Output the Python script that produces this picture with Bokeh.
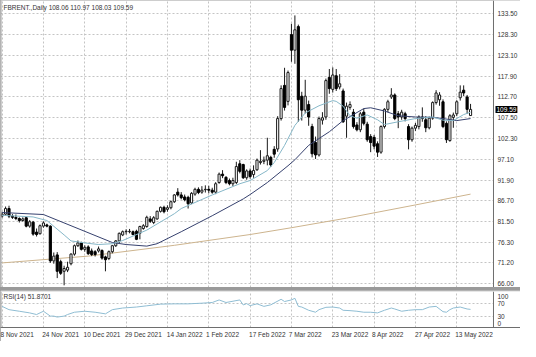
from bokeh.plotting import figure
from bokeh.layouts import column
from bokeh.models import Range1d, FixedTicker, Label, ColumnDataSource, Span
from bokeh.core.properties import value
from bokeh.embed import file_html
from bokeh.resources import INLINE

symbol = "FBRENT.,Daily"
date_labels = ["8 Nov 2021", "24 Nov 2021", "10 Dec 2021", "29 Dec 2021", "14 Jan 2022", "1 Feb 2022",
               "17 Feb 2022", "7 Mar 2022", "23 Mar 2022", "8 Apr 2022", "27 Apr 2022", "13 May 2022"]
date_idx = [0, 12, 24, 36, 48, 60, 72, 84, 96, 108, 120, 132]

opens = [82.9, 83.4, 84.8, 82.9, 82.6, 82.3, 81.8, 82.5, 80.4, 81.4, 78.9, 78.5, 80.4, 80.7, 80.4, 71.7, 73.2, 71.5, 69.1, 69.4,
         71.0, 73.4, 75.5, 76.2, 74.6, 75.2, 74.2, 74.0, 74.2, 74.3, 72.7, 72.3, 74.0, 75.5, 76.7, 78.2, 79.0, 79.0, 79.0, 79.1,
         78.6, 79.8, 80.3, 82.2, 81.3, 82.2, 84.1, 85.1, 84.6, 85.0, 86.5, 88.9, 88.2, 87.7, 87.6, 86.2, 88.4, 89.6, 88.9, 89.5,
         89.6, 89.4, 88.9, 91.3, 93.4, 92.6, 91.8, 91.0, 91.3, 96.0, 95.8, 92.5, 94.2, 93.3, 94.5, 96.3, 96.6, 96.9, 97.6, 99.6,
         99.7, 107.3, 115.6, 111.6, 128.3, 124.4, 130.3, 112.9, 109.4, 110.8, 105.3, 101.3, 98.2, 106.9, 107.7, 117.6, 114.6, 118.0, 115.2, 114.2,
         107.9, 110.1, 108.9, 105.7, 104.5, 108.9, 105.9, 102.8, 102.6, 101.0, 98.9, 105.3, 109.6, 112.7, 113.2, 108.5, 107.7, 108.5, 105.3, 102.0,
         104.9, 105.3, 107.7, 107.0, 105.0, 107.4, 111.3, 112.0, 111.5, 106.1, 101.8, 107.6, 108.5, 112.5, 114.4, 112.7, 108.06]
highs = [84.0, 85.3, 85.5, 83.4, 83.3, 82.6, 82.6, 82.7, 81.9, 81.7, 79.8, 80.8, 81.6, 81.0, 80.6, 73.8, 73.9, 72.0, 70.5, 71.5,
         73.6, 75.8, 76.8, 76.5, 75.6, 75.6, 74.8, 74.4, 75.3, 74.6, 73.0, 74.3, 75.7, 76.9, 78.8, 79.3, 79.6, 79.7, 79.3, 79.5,
         80.5, 80.9, 83.0, 82.9, 82.9, 84.3, 85.3, 85.5, 85.6, 86.8, 88.4, 89.9, 88.9, 88.3, 88.0, 88.9, 90.0, 90.1, 90.4, 90.6,
         90.5, 90.0, 91.4, 93.8, 94.4, 92.9, 92.3, 92.5, 96.5, 96.9, 96.0, 94.6, 94.8, 95.6, 97.3, 99.4, 97.8, 102.5, 98.0, 100.4,
         107.9, 115.6, 120.0, 119.3, 131.0, 133.1, 130.8, 114.0, 117.0, 111.8, 106.0, 102.8, 107.8, 108.9, 117.3, 119.7, 120.1, 119.7, 118.4, 114.8,
         111.3, 111.6, 109.7, 106.4, 109.0, 109.8, 106.5, 103.4, 103.2, 101.6, 105.6, 109.9, 112.0, 114.9, 113.6, 109.2, 109.5, 109.0, 105.9, 105.3,
         106.2, 108.1, 110.1, 107.9, 107.8, 111.6, 114.4, 113.9, 112.1, 106.6, 108.4, 108.8, 111.9, 115.6, 115.6, 113.2, 110.97]
lows = [82.5, 83.0, 82.4, 82.2, 81.9, 81.3, 81.5, 80.1, 80.0, 78.0, 77.8, 78.3, 80.0, 80.1, 71.2, 71.0, 67.4, 68.2, 65.6, 68.9,
        70.6, 73.0, 75.2, 74.3, 74.0, 73.2, 72.9, 72.8, 73.8, 72.0, 69.1, 71.9, 73.6, 75.2, 76.1, 77.9, 78.3, 78.6, 78.1, 76.9,
        77.1, 79.5, 80.0, 81.2, 80.9, 82.0, 83.8, 83.6, 84.0, 84.6, 86.2, 87.8, 87.1, 86.6, 84.8, 85.9, 88.0, 88.4, 88.5, 88.8,
        88.6, 88.5, 88.4, 91.0, 92.4, 90.9, 90.6, 90.4, 90.9, 93.6, 92.2, 92.0, 92.3, 92.5, 94.2, 95.8, 95.9, 95.6, 95.2, 97.5,
        99.0, 106.8, 109.3, 110.6, 121.5, 121.0, 106.5, 106.8, 108.6, 105.5, 97.6, 97.2, 97.8, 105.8, 107.0, 113.5, 113.8, 114.2, 114.6, 106.2,
        102.5, 109.5, 104.8, 104.1, 103.9, 105.6, 101.5, 98.9, 99.6, 97.7, 98.5, 104.8, 108.9, 112.2, 106.9, 104.9, 107.0, 106.6, 99.6, 101.5,
        104.2, 104.6, 106.5, 103.9, 104.6, 107.0, 110.8, 110.5, 104.9, 101.2, 101.5, 105.0, 107.9, 111.8, 112.9, 108.5, 108.03]
closes = [83.4, 84.8, 82.9, 82.6, 82.3, 81.8, 82.2, 80.4, 81.5, 78.4, 78.3, 80.5, 81.2, 80.4, 71.7, 72.9, 69.1, 68.6, 69.8, 70.1,
          73.4, 75.5, 76.2, 74.6, 75.1, 73.5, 73.3, 73.3, 74.7, 72.4, 72.0, 74.0, 75.5, 76.7, 78.6, 79.0, 79.1, 79.1, 78.3, 77.1,
          80.3, 80.5, 82.6, 81.6, 82.5, 84.1, 85.1, 84.0, 85.0, 86.5, 88.2, 88.2, 87.5, 87.0, 86.0, 88.6, 89.6, 88.8, 89.4, 89.6,
          89.4, 88.9, 91.0, 93.4, 93.0, 91.3, 91.0, 91.8, 95.3, 94.1, 92.5, 94.2, 92.8, 94.3, 96.9, 96.6, 96.9, 98.0, 95.7, 98.4,
          107.3, 114.8, 110.1, 118.8, 124.4, 129.5, 112.0, 109.4, 112.9, 107.7, 98.5, 98.2, 107.3, 107.5, 116.8, 114.8, 118.2, 114.8, 116.0, 106.5,
          110.4, 110.8, 105.3, 104.5, 108.5, 106.1, 102.0, 101.3, 100.4, 98.9, 105.3, 109.6, 111.5, 113.2, 107.3, 107.7, 108.9, 107.3, 102.0, 104.9,
          105.6, 107.7, 107.3, 105.0, 107.4, 111.3, 113.7, 113.2, 105.3, 102.0, 108.0, 108.2, 111.5, 113.9, 113.7, 109.6, 109.59]

# moving-average lines (bar index, value)
fast_idx = [0, 9, 13, 18, 20, 24, 28, 32, 35, 42, 50, 52, 61, 69, 72, 77, 79, 82, 85, 88, 92, 96, 97, 99, 101, 103, 106, 109, 111, 115, 120, 125, 128, 131, 134, 136]
fast_val = [83.1, 82.7, 81.8, 78.2, 76.7, 76.2, 75.8, 76.0, 76.8, 79.4, 83.5, 84.8, 88.2, 91.0, 91.8, 94.3, 96.3, 100.6, 105.6, 108.7, 110.5, 111.8, 111.6, 110.4, 108.0, 107.4, 108.2, 107.0, 105.8, 106.5, 107.3, 107.7, 106.9, 106.8, 108.3, 108.9]
slow_idx = [0, 12, 20, 32, 36, 42, 45, 52, 61, 70, 72, 77, 83, 85, 89, 95, 99, 105, 107, 111, 115, 120, 125, 128, 132, 136]
slow_val = [83.8, 83.3, 80.5, 76.3, 75.8, 75.4, 76.0, 79.0, 83.0, 87.2, 88.3, 91.3, 95.5, 97.0, 100.6, 104.0, 106.8, 109.8, 110.0, 109.2, 108.0, 107.7, 107.6, 107.3, 106.8, 107.3]
ma200_idx = [0, 25, 50, 72, 84, 100, 120, 136]
ma200_val = [71.2, 72.9, 75.6, 78.3, 80.0, 82.4, 85.7, 88.4]

rsi_idx = [0, 2, 5, 8, 10, 12, 14, 15, 16, 18, 19, 21, 24, 27, 30, 32, 35, 39, 42, 46, 50, 54, 58, 61, 63, 65, 69, 70, 71, 72,
           74, 76, 78, 81, 82, 84, 85, 86, 87, 89, 91, 92, 94, 96, 98, 99, 101, 103, 105, 107, 109, 111, 113, 114, 116, 118, 120, 122, 124, 126,
           128, 129, 130, 131, 133, 135, 136]
rsi_val = [60.8, 51.0, 46.3, 41.4, 36.5, 46.3, 31.9, 31.9, 29.0, 31.9, 36.5, 43.4, 46.3, 43.4, 38.5, 51.0, 55.9, 58.8, 62.5, 67.4, 68.3, 68.3, 70.3, 72.3, 79.9, 72.3, 79.9, 65.0, 69.0, 63.0,
           68.3, 60.8, 65.4, 81.9, 75.2, 80.0, 84.8, 60.8, 58.8, 49.2, 43.4, 51.0, 58.0, 58.8, 55.9, 49.2, 48.1, 46.3, 43.4, 43.4, 41.4, 49.2, 55.9, 53.0, 46.3, 49.2, 51.0, 51.0, 58.8, 60.8,
           45.0, 43.4, 51.0, 55.9, 58.8, 53.0, 51.8701]

price_ticks = [66.00, 71.20, 76.30, 81.50, 86.70, 91.90, 97.10, 102.30, 107.50, 112.70, 117.90, 123.10, 128.30, 133.50]
rsi_levels = [30, 70]
rsi_scale = [100, 70, 30]
rsi_floor = 0

FONT = "Liberation Sans"
FS = "6.5px"
TXT = "#333333"
GRID = "#c4c4c4"
AXIS = "#6e6e6e"

n = len(closes)
idx = list(range(n))
bull = [i for i in idx if closes[i] >= opens[i]]
bear = [i for i in idx if closes[i] < opens[i]]


def body_source(ids):
    return ColumnDataSource(dict(
        x=ids,
        top=[max(opens[i], closes[i]) for i in ids],
        bottom=[min(opens[i], closes[i]) for i in ids],
    ))


# price scale sits at the right end of the bar axis; the strip beyond it holds the scale labels
scale_x = 142.66
xr = Range1d(-0.47, 150.5)

p = figure(width=520, height=287, x_range=xr, y_range=Range1d(65.05, 136.83),
           x_axis_location=None, y_axis_location=None,
           toolbar_location=None, output_backend="svg",
           min_border_left=0, min_border_right=0, min_border_top=0, min_border_bottom=0,
           background_fill_color="white", border_fill_color="white",
           outline_line_color=None)

p.xgrid.ticker = FixedTicker(ticks=date_idx)
p.ygrid.ticker = FixedTicker(ticks=price_ticks)
for g in (p.xgrid, p.ygrid):
    g.grid_line_color = GRID
    g.grid_line_dash = "2 2"
    g.grid_line_width = 1

p.line(ma200_idx, ma200_val, line_color="#cdb48e", line_width=1)

p.segment(x0=idx, y0=lows, x1=idx, y1=highs, line_color="#1a1a1a", line_width=1)
p.vbar(x="x", width=0.62, top="top", bottom="bottom", source=body_source(bull),
       fill_color="#ffffff", line_color="#1a1a1a", line_width=1)
p.vbar(x="x", width=0.62, top="top", bottom="bottom", source=body_source(bear),
       fill_color="#000000", line_color="#000000", line_width=1)

p.line(slow_idx, slow_val, line_color="#36416e", line_width=1)
p.line(fast_idx, fast_val, line_color="#86b7c8", line_width=1)

# price scale strip
p.quad(left=[scale_x], right=[xr.end], bottom=[p.y_range.start], top=[p.y_range.end],
       fill_color="white", line_color=None)
p.add_layout(Span(location=scale_x, dimension="height", line_color=AXIS, line_width=1))
p.text(x=[scale_x] * len(price_ticks), y=price_ticks, text=[f"{t:.2f}" for t in price_ticks],
       x_offset=4, text_align="left", text_baseline="middle",
       text_font=value(FONT), text_font_size=value(FS), text_color=TXT)
p.text(x=[scale_x], y=[closes[-1]], text=[f"{closes[-1]:.2f}"],
       x_offset=2, text_align="left", text_baseline="middle",
       text_font=value(FONT), text_font_size=value(FS), text_color="white",
       background_fill_color="black", padding=1)

# left border of the chart window
p.add_layout(Span(location=xr.start, dimension="height", line_color="#9a9a9a", line_width=2))

header = f"{symbol} {opens[-1]:.2f} {highs[-1]:.2f} {lows[-1]:.2f} {closes[-1]:.2f}"
p.add_layout(Label(x=3, y=284, x_units="screen", y_units="screen", text=header,
                   text_font=FONT, text_font_size=FS, text_color=TXT,
                   text_baseline="top", text_align="left"))

r = figure(width=520, height=51, x_range=xr, y_range=Range1d(-2, 105),
           x_axis_location="below", y_axis_location=None,
           toolbar_location=None, output_backend="svg",
           min_border_left=0, min_border_right=0, min_border_top=1, min_border_bottom=14,
           background_fill_color="white", border_fill_color="white",
           outline_line_color=None)

r.xgrid.ticker = FixedTicker(ticks=date_idx)
r.ygrid.ticker = FixedTicker(ticks=rsi_levels)
for g in (r.xgrid, r.ygrid):
    g.grid_line_color = GRID
    g.grid_line_dash = "2 2"

label_pos = [d + round(len(t) * 0.42) for d, t in zip(date_idx, date_labels)]
xa = r.xaxis[0]
xa.ticker = FixedTicker(ticks=label_pos)
xa.major_label_overrides = {pos: t for pos, t in zip(label_pos, date_labels)}
xa.major_label_text_font = FONT
xa.major_label_text_font_size = FS
xa.major_label_text_color = TXT
xa.major_label_standoff = 3
xa.major_tick_out = 0
xa.major_tick_in = 0
xa.minor_tick_out = 0
xa.minor_tick_in = 0
xa.axis_line_color = AXIS

r.line(rsi_idx, rsi_val, line_color="#8fbdd3", line_width=1)

r.quad(left=[scale_x], right=[xr.end], bottom=[r.y_range.start], top=[r.y_range.end],
       fill_color="white", line_color=None)
r.add_layout(Span(location=scale_x, dimension="height", line_color=AXIS, line_width=1))
r.add_layout(Span(location=xr.start, dimension="height", line_color="#9a9a9a", line_width=2))
# scale labels: the end values are nudged inward so they stay inside the indicator window
r.text(x=[scale_x] * len(rsi_scale), y=rsi_scale, text=[str(v) for v in rsi_scale],
       x_offset=4, y_offset=[3, 0, 0], text_align="left", text_baseline="middle",
       text_font=value(FONT), text_font_size=value(FS), text_color=TXT)
r.text(x=[scale_x], y=[rsi_floor], text=[str(rsi_floor)],
       x_offset=4, y_offset=-1, text_align="left", text_baseline="bottom",
       text_font=value(FONT), text_font_size=value(FS), text_color=TXT)

r.add_layout(Label(x=3, y=35, x_units="screen", y_units="screen", text=f"RSI(14) {rsi_val[-1]:.4f}",
                   text_font=FONT, text_font_size=FS, text_color=TXT,
                   text_baseline="top", text_align="left"))

layout = column(p, r, spacing=3, styles={"background-color": "#9a9a9a"})

with open("out.html", "w") as f:
    f.write(file_html(layout, INLINE))
